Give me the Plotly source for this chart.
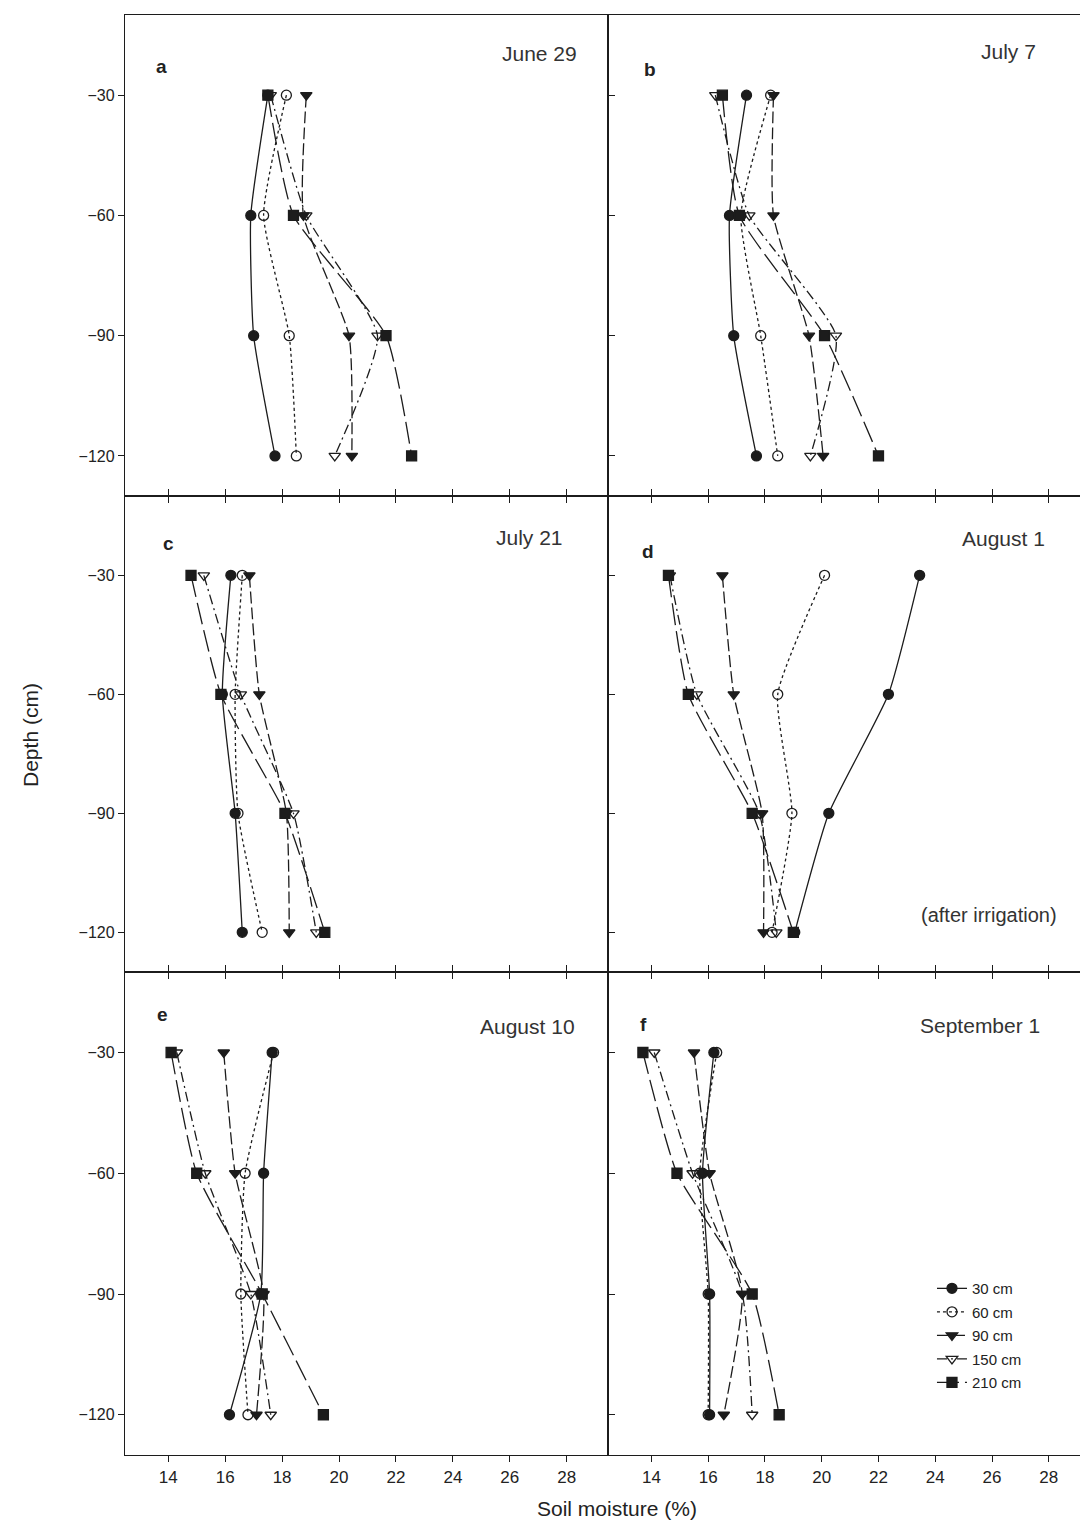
import plotly.graph_objects as go
from plotly.subplots import make_subplots

# Sampling depths (cm, negative = below surface)
depth = [-30, -60, -90, -120]

# Distance of the access tube from the furrow, used as series names
series_names = ["30 cm", "60 cm", "90 cm", "150 cm", "210 cm"]

# Soil moisture (%) per series at depths -30, -60, -90, -120 cm
jun29_30 = [17.5, 16.9, 17.0, 17.75]
jun29_60 = [18.15, 17.35, 18.25, 18.5]
jun29_90 = [18.85, 18.75, 20.35, 20.45]
jun29_150 = [17.6, 18.85, 21.35, 19.85]
jun29_210 = [17.5, 18.4, 21.65, 22.55]

jul07_30 = [17.35, 16.75, 16.9, 17.7]
jul07_60 = [18.2, 17.15, 17.85, 18.45]
jul07_90 = [18.3, 18.3, 19.55, 20.05]
jul07_150 = [16.25, 17.45, 20.5, 19.6]
jul07_210 = [16.5, 17.1, 20.1, 22.0]

jul21_30 = [16.2, 15.9, 16.35, 16.6]
jul21_60 = [16.6, 16.35, 16.45, 17.3]
jul21_90 = [16.85, 17.2, 18.15, 18.25]
jul21_150 = [15.25, 16.55, 18.4, 19.2]
jul21_210 = [14.8, 15.85, 18.1, 19.5]

aug01_30 = [23.45, 22.35, 20.25, 19.05]
aug01_60 = [20.1, 18.45, 18.95, 18.25]
aug01_90 = [16.5, 16.9, 17.9, 17.95]
aug01_150 = [14.65, 15.6, 17.8, 18.4]
aug01_210 = [14.6, 15.3, 17.55, 19.0]

aug10_30 = [17.65, 17.35, 17.25, 16.15]
aug10_60 = [17.7, 16.7, 16.55, 16.8]
aug10_90 = [15.95, 16.35, 17.35, 17.1]
aug10_150 = [14.3, 15.3, 16.9, 17.6]
aug10_210 = [14.1, 15.0, 17.3, 19.45]

sep01_30 = [16.2, 15.8, 16.05, 16.05]
sep01_60 = [16.3, 15.7, 16.0, 16.0]
sep01_90 = [15.5, 16.05, 17.2, 16.55]
sep01_150 = [14.1, 15.45, 17.2, 17.55]
sep01_210 = [13.7, 14.9, 17.55, 18.5]

panel_letters = ["a", "b", "c", "d", "e", "f"]
panel_dates = ["June 29", "July 7", "July 21", "August 1", "August 10", "September 1"]
x_ticks = [14, 16, 18, 20, 22, 24, 26, 28]
y_ticks = [-30, -60, -90, -120]

panels = [
    [jun29_30, jun29_60, jun29_90, jun29_150, jun29_210],
    [jul07_30, jul07_60, jul07_90, jul07_150, jul07_210],
    [jul21_30, jul21_60, jul21_90, jul21_150, jul21_210],
    [aug01_30, aug01_60, aug01_90, aug01_150, aug01_210],
    [aug10_30, aug10_60, aug10_90, aug10_150, aug10_210],
    [sep01_30, sep01_60, sep01_90, sep01_150, sep01_210],
]

INK = "#1c1c1c"
styles = [
    dict(dash="solid", symbol="circle"),
    dict(dash="dot", symbol="circle-open"),
    dict(dash="12px,4px", symbol="triangle-down"),
    dict(dash="10px,4px,2px,4px", symbol="triangle-down-open"),
    dict(dash="22px,6px", symbol="square"),
]

fig = make_subplots(rows=3, cols=2, horizontal_spacing=0, vertical_spacing=0,
                    column_widths=[483, 472], row_heights=[481, 476, 483])

for p, series in enumerate(panels):
    r, c = p // 2 + 1, p % 2 + 1
    for s, vals in enumerate(series):
        st = styles[s]
        fig.add_trace(go.Scatter(
            x=vals, y=depth, mode="lines+markers", name=series_names[s],
            legendgroup=series_names[s], showlegend=(p == 0),
            line=dict(color=INK, width=1.3, dash=st["dash"], shape="spline", smoothing=0.5),
            marker=dict(symbol=st["symbol"], size=10, color=INK,
                        line=dict(color=INK, width=1.3)),
        ), row=r, col=c)

tick_font = dict(family="Liberation Sans Narrow, Liberation Sans, Arial", size=17, color="#222")
for r in range(1, 4):
    for c in range(1, 3):
        rng = [12.48, 29.45] if c == 1 else [12.47, 29.1]
        fig.update_xaxes(range=rng, tickvals=x_ticks, showline=True, linecolor=INK, linewidth=1.3,
                         mirror=("ticks" if r > 1 else True), ticks="outside", ticklen=6,
                         tickcolor=INK, showgrid=False, zeroline=False,
                         showticklabels=(r == 3), tickfont=tick_font, row=r, col=c)
        fig.update_yaxes(range=[-130, -10], tickvals=y_ticks, showline=True, linecolor=INK,
                         linewidth=1.3, mirror=("ticks" if c == 1 else True),
                         ticks=("outside" if c == 1 else ""), ticklen=6, tickcolor=INK,
                         showgrid=False, zeroline=False, showticklabels=(c == 1),
                         tickfont=dict(family="Liberation Sans Narrow, Liberation Sans, Arial",
                                       size=16, color="#222"),
                         row=r, col=c)

# Panel letters and sampling dates
letter_pos = [(0.075, 0.892), (0.09, 0.887), (0.09, 0.9), (0.085, 0.883), (0.077, 0.912), (0.075, 0.892)]
date_pos = [(0.94, 0.92), (0.91, 0.925), (0.91, 0.913), (0.93, 0.91), (0.935, 0.888), (0.92, 0.89)]
for p in range(6):
    sub = p + 1
    xd = "x domain" if sub == 1 else f"x{sub} domain"
    yd = "y domain" if sub == 1 else f"y{sub} domain"
    lx, ly = letter_pos[p]
    fig.add_annotation(text=f"<b>{panel_letters[p]}</b>", xref=xd, yref=yd, x=lx, y=ly,
                       showarrow=False, xanchor="center", yanchor="middle",
                       font=dict(family="Liberation Sans, Arial", size=19, color="#222"))
    dx, dy = date_pos[p]
    fig.add_annotation(text=panel_dates[p], xref=xd, yref=yd, x=dx, y=dy,
                       showarrow=False, xanchor="right", yanchor="middle",
                       font=dict(family="Liberation Sans, Arial", size=21, color="#333"))

fig.add_annotation(text="(after irrigation)", xref="x4 domain", yref="y4 domain", x=0.955, y=0.12,
                   showarrow=False, xanchor="right", yanchor="middle",
                   font=dict(family="Liberation Sans, Arial", size=20, color="#333"))

# Shared axis titles
fig.add_annotation(text="Soil moisture (%)", xref="paper", yref="paper", x=0.515, y=-0.037,
                   showarrow=False, xanchor="center", yanchor="middle",
                   font=dict(family="Liberation Sans Narrow, Liberation Sans, Arial", size=21, color="#222"))
fig.add_annotation(text="Depth (cm)", xref="paper", yref="paper", x=-0.0995, y=0.5,
                   showarrow=False, textangle=-90, xanchor="center", yanchor="middle",
                   font=dict(family="Liberation Sans Narrow, Liberation Sans, Arial", size=21, color="#222"))

fig.update_layout(
    width=1080, height=1525,
    margin=dict(l=125, r=0, t=15, b=70),
    paper_bgcolor="white", plot_bgcolor="white",
    showlegend=True,
    legend=dict(x=0.845, y=0.127, xanchor="left", yanchor="top",
                bgcolor="rgba(0,0,0,0)", tracegroupgap=1,
                font=dict(family="Liberation Sans Narrow, Liberation Sans, Arial", size=15, color="#222")),
)

fig.write_html("out.html")
